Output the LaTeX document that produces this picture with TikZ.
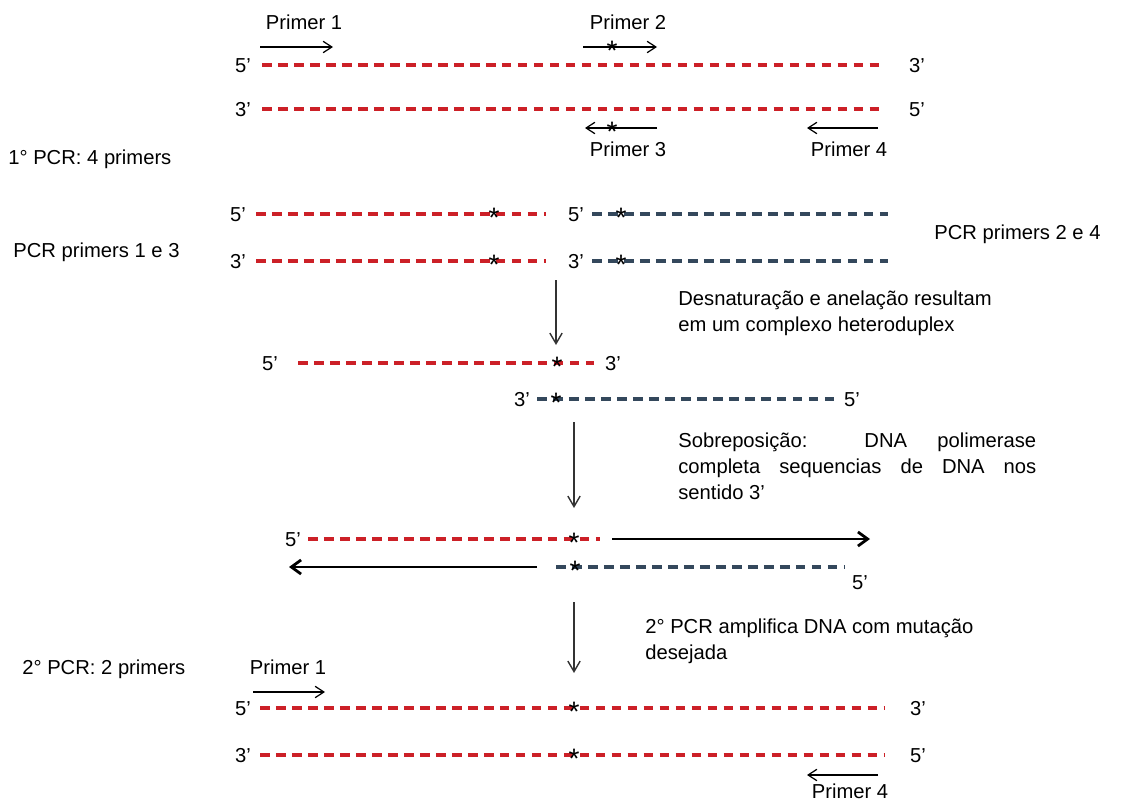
\documentclass[tikz,border=0pt]{standalone}
\usepackage{fontspec}
\setmainfont{Liberation Sans}
\usetikzlibrary{arrows.meta}
\definecolor{dnared}{RGB}{204,32,39}
\definecolor{dnablue}{RGB}{52,72,92}
\tikzset{
  strand/.style={line width=2.1pt,dash pattern=on 5.5pt off 3.6pt},
  redstrand/.style={strand,dnared},
  bluestrand/.style={strand,dnablue},
  primer/.style={line width=0.7pt,-{Straight Barb[length=5pt,width=6.5pt]}},
  stage/.style={line width=0.8pt,black!80,-{Straight Barb[length=6pt,width=7pt]}},
  ext/.style={line width=1.6pt,-{Straight Barb[length=5.5pt,width=8pt]}},
  mut/.style={inner sep=0pt,font=\fontsize{16}{16}\selectfont,text height=0pt,text depth=0pt,yshift=-7.8pt},
  lbl/.style={inner sep=0pt,text height=8.2pt,text depth=0pt},
  note/.style={inner sep=0pt,align=left,anchor=west}
}
\begin{document}
\begin{tikzpicture}[x=0.02cm,y=-0.02cm,font=\fontsize{11.5}{14.7}\selectfont]
\useasboundingbox (0,0) rectangle (1127,805);
\node[lbl] (pa1) at (304,22) {Primer 1};
\draw[primer] (260,47)--(333,47);
\node[lbl] (pa2) at (628,22) {Primer 2};
\draw[primer] (583,47)--(657,47); \node[mut] (ma2) at (612,47) {*};
\node[lbl] (ta5) at (243,65) {5’}; \draw[redstrand] (262,65)--(885,65); \node[lbl] (ta3) at (917,65) {3’};
\node[lbl] (tb3) at (243,109) {3’}; \draw[redstrand] (262,109)--(885,109); \node[lbl] (tb5) at (917,109) {5’};
\draw[primer] (657,128)--(585,128); \node[mut] (ma3) at (612,128) {*};
\node[lbl] (pa3) at (628,149) {Primer 3};
\draw[primer] (878,128)--(807,128);
\node[lbl] (pa4) at (849,149) {Primer 4};
\node[lbl,anchor=west] (pcra) at (8,157) {1° PCR: 4 primers};
\node[lbl] (la5) at (238,214) {5’}; \draw[redstrand] (256,214)--(546,214); \node[mut] (mla) at (494,214) {*};
\node[lbl] (lb3) at (238,261) {3’}; \draw[redstrand] (256,261)--(546,261); \node[mut] (mlb) at (494,261) {*};
\node[lbl] (ra5) at (576,214) {5’}; \draw[bluestrand] (592,214)--(888,214); \node[mut] (mra) at (621,214) {*};
\node[lbl] (rb3) at (576,261) {3’}; \draw[bluestrand] (592,261)--(888,261); \node[mut] (mrb) at (621,261) {*};
\node[lbl,anchor=west] (pcrl) at (13,250) {PCR primers 1 e 3};
\node[lbl,anchor=west] (pcrr) at (934,232) {PCR primers 2 e 4};
\draw[stage] (556,280)--(556,345);
\node[note] (desn) at (678,313) {Desnaturação e anelação resultam\\em um complexo heteroduplex};
\node[lbl] (ha5) at (270,363) {5’}; \draw[redstrand] (298,363)--(594,363); \node[mut] (mha) at (557,363) {*}; \node[lbl] (ha3) at (613,363) {3’};
\node[lbl] (hb3) at (522,399) {3’}; \draw[bluestrand] (537,399)--(835,399); \node[mut] (mhb) at (556,399) {*}; \node[lbl] (hb5) at (852,399) {5’};
\draw[stage] (574,422)--(574,508);
\node[note,text width=7.16cm,align=justify] (sobr) at (678,466) {Sobreposição: DNA polimerase\linebreak completa sequencias de DNA nos\linebreak sentido 3’};
\node[lbl] (ea5) at (293,539) {5’}; \draw[redstrand] (308,539)--(600,539); \node[mut] (mea) at (574,539) {*};
\draw[ext] (612,539)--(870,539);
\draw[ext] (537,567)--(289,567);
\draw[bluestrand] (556,567)--(845,567); \node[mut] (meb) at (575,567) {*};
\node[lbl] (eb5) at (860,582) {5’};
\draw[stage] (574,602)--(574,673);
\node[note] (ampl) at (645,641) {2° PCR amplifica DNA com mutação\\desejada};
\node[lbl,anchor=west] (pcrb) at (22,667) {2° PCR: 2 primers};
\node[lbl] (pb1) at (288,667) {Primer 1};
\draw[primer] (253,692)--(325,692);
\node[lbl] (fa5) at (243,708) {5’}; \draw[redstrand] (260,708)--(885,708); \node[mut] (mfa) at (574,708) {*}; \node[lbl] (fa3) at (918,708) {3’};
\node[lbl] (fb3) at (243,755) {3’}; \draw[redstrand] (260,755)--(885,755); \node[mut] (mfb) at (574,755) {*}; \node[lbl] (fb5) at (918,755) {5’};
\draw[primer] (878,775)--(807,775);
\node[lbl] (pb4) at (850,791) {Primer 4};
\end{tikzpicture}
\end{document}
